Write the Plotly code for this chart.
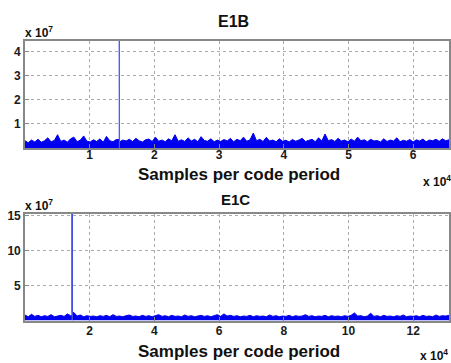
import numpy as np
import plotly.graph_objects as go

# ---------------- data (units: 1e7 for y, samples for x) ----------------
e1b_len = 65536
e1b_peak_x = 14600
e1b_peak_y = 4.45
e1b_noise = [0.30, 0.22, 0.33, 0.25, 0.36, 0.24, 0.30, 0.42, 0.26, 0.31,
             0.55, 0.27, 0.33, 0.24, 0.38, 0.45, 0.26, 0.33, 0.50, 0.28,
             0.25, 0.34, 0.27, 0.38, 0.24, 0.48, 0.30, 0.26, 0.35, 0.25,
             0.33, 0.29, 0.36, 0.27, 0.40, 0.30, 0.25, 0.34, 0.37, 0.27,
             0.45, 0.28, 0.33, 0.26, 0.38, 0.30, 0.55, 0.28, 0.34, 0.27,
             0.42, 0.29, 0.36, 0.26, 0.47, 0.31, 0.28, 0.38, 0.26, 0.33,
             0.27, 0.35, 0.29, 0.40, 0.26, 0.36, 0.30, 0.45, 0.28, 0.34,
             0.62, 0.30, 0.36, 0.27, 0.44, 0.29, 0.33, 0.26, 0.38, 0.28,
             0.32, 0.25, 0.35, 0.28, 0.33, 0.40, 0.27, 0.31, 0.36, 0.26,
             0.42, 0.29, 0.58, 0.30, 0.35, 0.27, 0.40, 0.29, 0.33, 0.26,
             0.37, 0.28, 0.45, 0.30, 0.34, 0.26, 0.36, 0.29, 0.31, 0.25,
             0.38, 0.27, 0.33, 0.29, 0.42, 0.26, 0.32, 0.28, 0.35, 0.25,
             0.34, 0.29, 0.37, 0.26, 0.33, 0.30, 0.36, 0.28, 0.38, 0.30,
             0.34]

e1c_len = 131072
e1c_peak_x = 14600
e1c_peak_y = 15.2
e1c_noise = [0.80, 0.55, 0.90, 0.60, 0.75, 0.55, 0.70, 0.60, 0.85, 0.55,
             0.65, 0.75, 0.60, 0.95, 0.70, 1.15, 0.65, 0.80, 0.55, 0.70,
             0.60, 0.65, 0.55, 0.70, 0.60, 0.75, 0.55, 0.85, 0.60, 0.65,
             0.55, 0.70, 0.80, 0.60, 0.65, 0.55, 0.75, 0.60, 0.70, 0.55,
             0.65, 0.85, 0.60, 0.70, 0.55, 0.75, 0.60, 0.65, 0.55, 0.80,
             0.60, 0.70, 0.55, 0.65, 0.75, 0.60, 0.70, 0.55, 0.65, 0.85,
             0.60, 0.95, 0.65, 0.75, 0.60, 0.70, 0.55, 0.65, 0.60, 0.75,
             0.55, 0.70, 0.60, 0.65, 0.55, 0.80, 0.60, 0.70, 0.55, 0.65,
             0.60, 0.75, 0.55, 0.70, 0.60, 0.65, 0.85, 0.60, 0.70, 0.55,
             0.65, 0.60, 0.75, 0.55, 0.70, 0.60, 0.65, 0.55, 0.70, 0.60,
             0.75, 1.10, 0.65, 0.70, 0.55, 0.65, 1.05, 0.60, 0.70, 0.55,
             0.75, 0.60, 0.65, 0.55, 0.70, 0.60, 0.80, 0.55, 0.65, 0.60,
             0.70, 0.55, 0.75, 0.60, 0.65, 0.55, 0.80, 0.60, 0.70, 0.65,
             0.75]

e1b_xticks = [10000, 20000, 30000, 40000, 50000, 60000]
e1b_xlabels = ["1", "2", "3", "4", "5", "6"]
e1b_yticks = [1, 2, 3, 4]
e1c_xticks = [20000, 40000, 60000, 80000, 100000, 120000]
e1c_xlabels = ["2", "4", "6", "8", "10", "12"]
e1c_yticks = [5, 10, 15]

title_top = "E1B"
title_bot = "E1C"
xlabel = "Samples per code period"

# ---------------- figure ----------------
W, H = 451, 363
def py(px):  # pixel y from top -> paper
    return 1 - px / H
def px_(p):
    return p / W

fig = go.Figure()

def add_series(n_len, noise, peak_x, peak_y, xa, ya):
    xs = list(np.linspace(1, n_len, len(noise)))
    ys = list(noise)
    i = int(np.searchsorted(xs, peak_x))
    xs = xs[:i] + [peak_x - 1, peak_x, peak_x + 1] + xs[i:]
    ys = ys[:i] + [noise[i - 1], peak_y, noise[i]] + ys[i:]
    fig.add_trace(go.Scatter(x=xs, y=ys, mode="lines",
                             line=dict(color="#0000f0", width=1),
                             fill="tozeroy", fillcolor="#0000f0",
                             xaxis=xa, yaxis=ya, showlegend=False,
                             hoverinfo="skip"))
    fig.add_trace(go.Scatter(x=[peak_x, peak_x], y=[0, peak_y], mode="lines",
                             line=dict(color="#5060e0", width=1.2),
                             xaxis=xa, yaxis=ya, showlegend=False,
                             hoverinfo="skip"))

add_series(e1b_len, e1b_noise, e1b_peak_x, e1b_peak_y, "x", "y")
add_series(e1c_len, e1c_noise, e1c_peak_x, e1c_peak_y, "x2", "y2")

FAM = "Liberation Sans, Arial, sans-serif"
tickfont = dict(family=FAM, size=12, color="#1a1a1a", weight="bold")
axcommon = dict(showline=True, linecolor="#888888", linewidth=1.5,
                mirror=True, ticks="inside", ticklen=4, tickcolor="#888888",
                showgrid=True, gridcolor="#aaaaaa", griddash="dot",
                gridwidth=1, zeroline=False, tickfont=tickfont)

left, right = px_(25), px_(450)
fig.update_layout(
    width=W, height=H, margin=dict(l=0, r=0, t=0, b=0),
    paper_bgcolor="white", plot_bgcolor="white",
    xaxis=dict(domain=[left, right], range=[0, e1b_len], anchor="y",
               tickvals=e1b_xticks, ticktext=e1b_xlabels,
               ticklabelstandoff=-5, **axcommon),
    yaxis=dict(domain=[py(145), py(36)], range=[0, 4.45], anchor="x",
               tickvals=e1b_yticks, ticktext=[str(v) for v in e1b_yticks],
               **axcommon),
    xaxis2=dict(domain=[left, right], range=[0, e1c_len], anchor="y2",
                tickvals=e1c_xticks, ticktext=e1c_xlabels,
                ticklabelstandoff=-2, **axcommon),
    yaxis2=dict(domain=[py(320), py(212)], range=[0, 15.2], anchor="x2",
                tickvals=e1c_yticks, ticktext=[str(v) for v in e1c_yticks],
                **axcommon),
)

def f(size):
    return dict(family=FAM, color="#111111", size=size, weight="bold")

ann = [
    dict(text=title_top, x=px_(234), y=py(17), font=f(16)),
    dict(text=title_bot, x=px_(236), y=py(197), font=f(15)),
    dict(text=xlabel, x=px_(240), y=py(172), font=f(17)),
    dict(text=xlabel, x=px_(240), y=py(351), font=f(17)),
    dict(text="x 10<sup>7</sup>", x=px_(39), y=py(27), font=f(12)),
    dict(text="x 10<sup>7</sup>", x=px_(39), y=py(203), font=f(12)),
    dict(text="x 10<sup>4</sup>", x=px_(438), y=py(178), font=f(12)),
    dict(text="x 10<sup>4</sup>", x=px_(435), y=py(355), font=f(12)),
]
for a in ann:
    a.update(xref="paper", yref="paper", showarrow=False,
             xanchor="center", yanchor="middle")
fig.update_layout(annotations=ann)

fig.write_html("out.html", config={"displayModeBar": False},
               post_script="document.body.style.margin='0';"
                           "document.body.style.padding='0';")
